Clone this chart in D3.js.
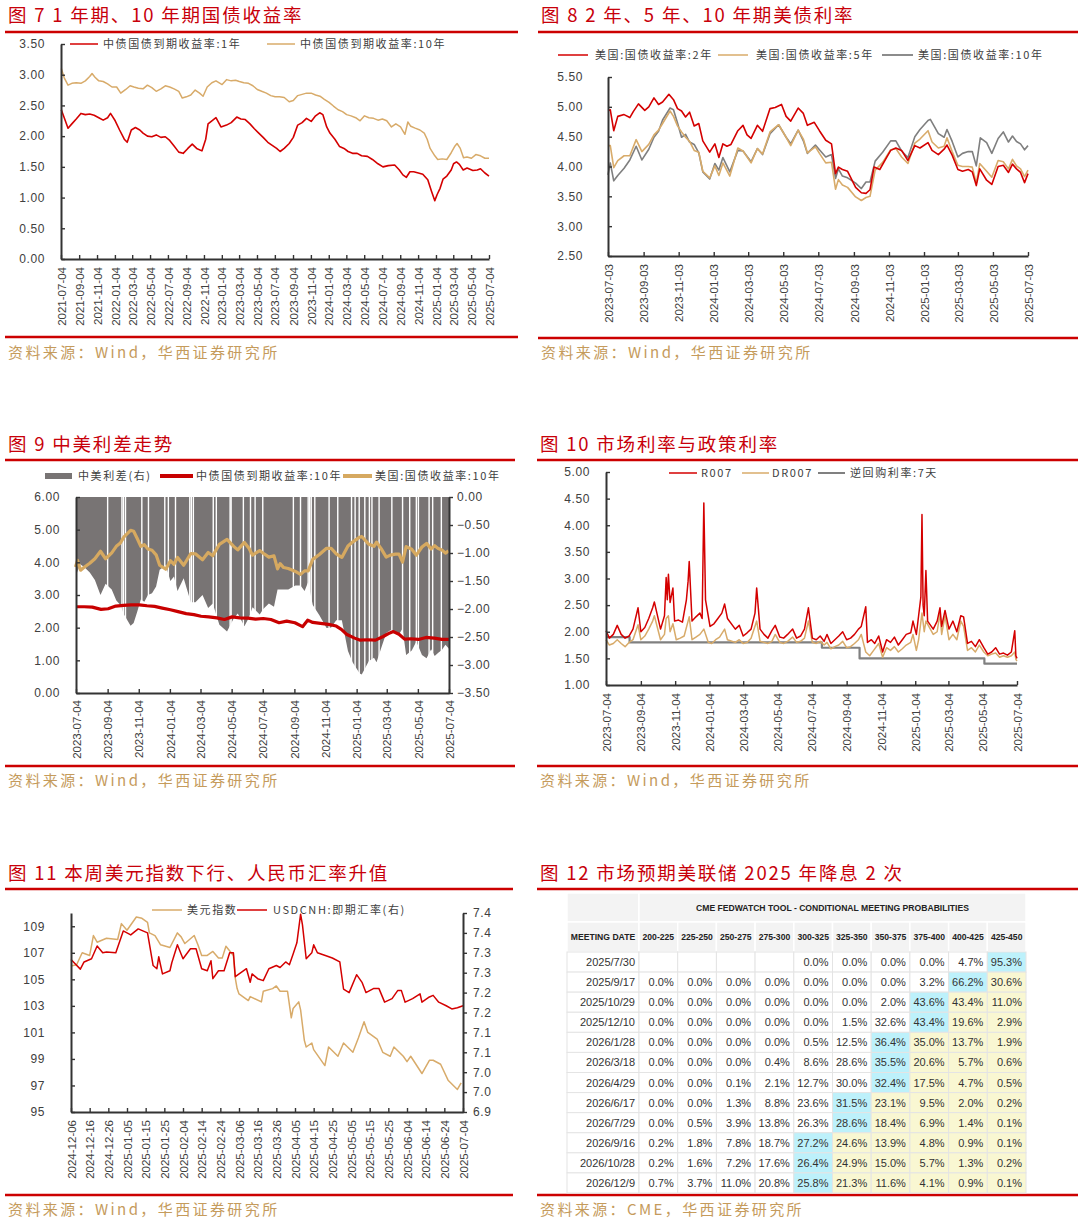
<!DOCTYPE html>
<html><head><meta charset="utf-8">
<script src="https://cdn.jsdelivr.net/npm/d3@7"></script>
<style>body{margin:0;background:#fff}svg{display:block}</style>
</head><body>
<svg id="c" width="1080" height="1225"></svg>
<script>
// ---------------- DATA ----------------
// Fig 7: China government bond yields (%)
const cn1y = [["2021-07-05",2.43],["2021-07-15",2.30],["2021-07-28",2.13],["2021-08-10",2.20],["2021-08-25",2.28],["2021-09-10",2.37],["2021-09-25",2.35],["2021-10-10",2.36],["2021-10-25",2.34],["2021-11-10",2.30],["2021-11-25",2.26],["2021-12-10",2.30],["2021-12-20",2.37],["2022-01-05",2.25],["2022-01-20",2.10],["2022-02-05",1.95],["2022-02-15",1.90],["2022-03-01",2.10],["2022-03-15",2.14],["2022-03-30",2.10],["2022-04-10",2.05],["2022-04-25",2.00],["2022-05-10",1.99],["2022-05-25",2.02],["2022-06-10",1.98],["2022-06-25",1.99],["2022-07-10",1.93],["2022-07-25",1.84],["2022-08-10",1.74],["2022-08-25",1.72],["2022-09-10",1.80],["2022-09-25",1.87],["2022-10-10",1.80],["2022-10-28",1.76],["2022-11-10",1.95],["2022-11-18",2.20],["2022-12-01",2.25],["2022-12-15",2.30],["2023-01-01",2.15],["2023-01-20",2.18],["2023-02-05",2.22],["2023-02-24",2.31],["2023-03-10",2.28],["2023-03-25",2.27],["2023-04-10",2.20],["2023-04-25",2.12],["2023-05-10",2.05],["2023-05-25",1.98],["2023-06-10",1.90],["2023-06-25",1.85],["2023-07-10",1.80],["2023-07-22",1.75],["2023-08-05",1.80],["2023-08-22",1.88],["2023-09-05",1.98],["2023-09-20",2.18],["2023-10-05",2.22],["2023-10-20",2.29],["2023-11-05",2.24],["2023-11-20",2.33],["2023-12-04",2.38],["2023-12-15",2.35],["2023-12-28",2.15],["2024-01-08",2.05],["2024-01-25",1.95],["2024-02-10",1.83],["2024-02-25",1.80],["2024-03-10",1.75],["2024-03-25",1.72],["2024-04-10",1.72],["2024-04-25",1.68],["2024-05-15",1.67],["2024-06-01",1.62],["2024-06-20",1.55],["2024-07-07",1.50],["2024-07-25",1.52],["2024-08-16",1.53],["2024-09-01",1.45],["2024-09-13",1.37],["2024-09-25",1.33],["2024-10-07",1.42],["2024-10-20",1.42],["2024-11-05",1.40],["2024-11-20",1.38],["2024-12-07",1.29],["2024-12-20",1.10],["2024-12-31",0.95],["2025-01-08",1.05],["2025-01-18",1.15],["2025-01-28",1.30],["2025-02-10",1.35],["2025-02-25",1.45],["2025-03-05",1.55],["2025-03-15",1.58],["2025-03-25",1.54],["2025-04-07",1.45],["2025-04-20",1.48],["2025-05-10",1.44],["2025-05-25",1.45],["2025-06-05",1.47],["2025-06-20",1.40],["2025-07-04",1.35]];
const cn10y = [["2021-07-05",3.10],["2021-07-15",2.95],["2021-07-28",2.83],["2021-08-10",2.86],["2021-08-25",2.87],["2021-09-10",2.86],["2021-09-25",2.90],["2021-10-10",2.97],["2021-10-18",3.02],["2021-10-28",2.96],["2021-11-10",2.90],["2021-11-25",2.89],["2021-12-10",2.85],["2021-12-25",2.80],["2022-01-10",2.80],["2022-01-24",2.70],["2022-02-10",2.76],["2022-02-25",2.82],["2022-03-10",2.80],["2022-03-25",2.78],["2022-04-10",2.77],["2022-04-25",2.83],["2022-05-10",2.79],["2022-05-25",2.73],["2022-06-10",2.77],["2022-06-25",2.82],["2022-07-10",2.80],["2022-07-25",2.77],["2022-08-10",2.73],["2022-08-22",2.62],["2022-09-05",2.64],["2022-09-20",2.67],["2022-10-05",2.75],["2022-10-20",2.70],["2022-11-01",2.65],["2022-11-15",2.80],["2022-12-01",2.87],["2022-12-15",2.90],["2023-01-05",2.84],["2023-01-20",2.92],["2023-02-05",2.90],["2023-02-20",2.91],["2023-03-05",2.89],["2023-03-20",2.87],["2023-04-05",2.86],["2023-04-20",2.82],["2023-05-05",2.76],["2023-05-20",2.73],["2023-06-05",2.70],["2023-06-20",2.66],["2023-07-05",2.64],["2023-07-20",2.64],["2023-08-05",2.63],["2023-08-22",2.56],["2023-09-05",2.58],["2023-09-20",2.66],["2023-10-05",2.68],["2023-10-20",2.70],["2023-11-05",2.70],["2023-11-20",2.67],["2023-12-05",2.65],["2023-12-20",2.60],["2024-01-05",2.55],["2024-01-20",2.49],["2024-02-05",2.43],["2024-02-20",2.40],["2024-03-05",2.35],["2024-03-20",2.33],["2024-04-05",2.30],["2024-04-20",2.25],["2024-05-05",2.33],["2024-05-20",2.30],["2024-06-05",2.29],["2024-06-20",2.26],["2024-07-05",2.28],["2024-07-20",2.25],["2024-08-05",2.15],["2024-08-20",2.20],["2024-09-05",2.15],["2024-09-20",2.03],["2024-09-30",2.23],["2024-10-10",2.16],["2024-10-25",2.13],["2024-11-10",2.10],["2024-11-25",2.05],["2024-12-05",1.95],["2024-12-15",1.80],["2024-12-31",1.68],["2025-01-10",1.62],["2025-01-25",1.63],["2025-02-10",1.62],["2025-02-25",1.73],["2025-03-10",1.84],["2025-03-17",1.88],["2025-03-28",1.80],["2025-04-08",1.65],["2025-04-20",1.66],["2025-05-05",1.64],["2025-05-20",1.70],["2025-06-05",1.68],["2025-06-20",1.64],["2025-07-04",1.64]];

// Fig 8: US Treasury yields (%)
const us2y = [["2023-07-03",4.94],["2023-07-07",4.95],["2023-07-13",4.60],["2023-07-20",4.84],["2023-07-31",4.87],["2023-08-10",4.82],["2023-08-16",4.92],["2023-08-25",5.05],["2023-09-05",4.94],["2023-09-12",5.00],["2023-09-21",5.15],["2023-09-29",5.04],["2023-10-06",5.08],["2023-10-17",5.21],["2023-10-25",5.12],["2023-11-01",4.97],["2023-11-08",4.93],["2023-11-15",4.83],["2023-11-22",4.91],["2023-11-30",4.68],["2023-12-08",4.72],["2023-12-15",4.43],["2023-12-27",4.24],["2024-01-05",4.38],["2024-01-12",4.15],["2024-01-19",4.38],["2024-01-26",4.34],["2024-02-02",4.37],["2024-02-14",4.60],["2024-02-23",4.69],["2024-03-01",4.53],["2024-03-08",4.47],["2024-03-19",4.69],["2024-03-28",4.59],["2024-04-10",4.97],["2024-04-19",4.99],["2024-04-30",5.04],["2024-05-08",4.84],["2024-05-16",4.76],["2024-05-29",4.98],["2024-06-07",4.89],["2024-06-14",4.69],["2024-06-26",4.74],["2024-07-05",4.60],["2024-07-16",4.44],["2024-07-26",4.38],["2024-08-02",3.88],["2024-08-07",3.99],["2024-08-14",3.95],["2024-08-23",3.92],["2024-09-06",3.65],["2024-09-16",3.56],["2024-09-24",3.55],["2024-10-01",3.61],["2024-10-08",3.99],["2024-10-18",3.95],["2024-10-28",4.12],["2024-11-06",4.27],["2024-11-15",4.31],["2024-11-25",4.27],["2024-12-06",4.10],["2024-12-18",4.35],["2024-12-27",4.31],["2025-01-10",4.40],["2025-01-17",4.27],["2025-01-28",4.20],["2025-02-07",4.29],["2025-02-12",4.36],["2025-02-21",4.19],["2025-03-03",3.95],["2025-03-11",3.92],["2025-03-21",3.95],["2025-03-28",3.91],["2025-04-04",3.68],["2025-04-10",3.96],["2025-04-22",3.77],["2025-05-01",3.70],["2025-05-12",4.00],["2025-05-21",4.02],["2025-05-30",3.90],["2025-06-06",4.04],["2025-06-13",3.96],["2025-06-20",3.90],["2025-06-27",3.73],["2025-07-03",3.88]];
const us5y = [["2023-07-03",4.35],["2023-07-07",4.35],["2023-07-13",3.98],["2023-07-20",4.10],["2023-07-31",4.18],["2023-08-10",4.18],["2023-08-21",4.45],["2023-08-31",4.25],["2023-09-12",4.37],["2023-09-21",4.53],["2023-09-29",4.61],["2023-10-06",4.72],["2023-10-19",4.93],["2023-10-25",4.84],["2023-11-01",4.68],["2023-11-08",4.58],["2023-11-15",4.49],["2023-11-22",4.42],["2023-11-30",4.27],["2023-12-08",4.24],["2023-12-15",3.92],["2023-12-27",3.81],["2024-01-05",4.01],["2024-01-12",3.85],["2024-01-19",4.06],["2024-01-31",3.84],["2024-02-14",4.31],["2024-02-23",4.26],["2024-03-08",4.06],["2024-03-19",4.30],["2024-03-28",4.21],["2024-04-10",4.58],["2024-04-25",4.70],["2024-05-08",4.49],["2024-05-16",4.35],["2024-05-29",4.61],["2024-06-07",4.46],["2024-06-14",4.23],["2024-06-28",4.33],["2024-07-05",4.22],["2024-07-16",4.06],["2024-07-26",4.07],["2024-08-02",3.62],["2024-08-07",3.78],["2024-08-14",3.69],["2024-08-23",3.65],["2024-09-06",3.49],["2024-09-16",3.43],["2024-09-24",3.48],["2024-10-01",3.50],["2024-10-10",3.94],["2024-10-23",4.07],["2024-11-06",4.28],["2024-11-15",4.30],["2024-11-25",4.16],["2024-12-06",4.05],["2024-12-18",4.39],["2024-12-27",4.46],["2025-01-10",4.60],["2025-01-17",4.41],["2025-01-28",4.31],["2025-02-07",4.34],["2025-02-12",4.48],["2025-02-21",4.25],["2025-03-03",4.02],["2025-03-11",4.00],["2025-03-21",4.00],["2025-03-28",3.99],["2025-04-04",3.72],["2025-04-10",4.05],["2025-04-22",3.92],["2025-05-01",3.82],["2025-05-12",4.10],["2025-05-21",4.08],["2025-05-30",3.96],["2025-06-06",4.12],["2025-06-13",4.01],["2025-06-20",3.96],["2025-06-27",3.83],["2025-07-03",3.94]];
const us10y = [["2023-07-03",3.86],["2023-07-07",4.06],["2023-07-13",3.76],["2023-07-20",3.85],["2023-07-31",3.97],["2023-08-10",4.11],["2023-08-21",4.34],["2023-08-31",4.11],["2023-09-12",4.29],["2023-09-21",4.49],["2023-09-29",4.59],["2023-10-06",4.78],["2023-10-19",4.98],["2023-10-25",4.95],["2023-11-01",4.73],["2023-11-08",4.49],["2023-11-15",4.54],["2023-11-22",4.41],["2023-11-30",4.37],["2023-12-08",4.23],["2023-12-15",3.91],["2023-12-27",3.79],["2024-01-05",4.05],["2024-01-12",3.94],["2024-01-19",4.15],["2024-01-31",3.91],["2024-02-14",4.27],["2024-02-23",4.26],["2024-03-08",4.08],["2024-03-19",4.30],["2024-03-28",4.20],["2024-04-10",4.55],["2024-04-25",4.70],["2024-05-08",4.49],["2024-05-16",4.38],["2024-05-29",4.61],["2024-06-07",4.43],["2024-06-14",4.22],["2024-06-28",4.36],["2024-07-05",4.28],["2024-07-16",4.16],["2024-07-26",4.20],["2024-08-02",3.80],["2024-08-07",3.96],["2024-08-14",3.84],["2024-08-23",3.81],["2024-09-06",3.72],["2024-09-16",3.63],["2024-09-24",3.74],["2024-10-01",3.74],["2024-10-10",4.09],["2024-10-23",4.24],["2024-11-06",4.43],["2024-11-15",4.43],["2024-11-25",4.26],["2024-12-06",4.15],["2024-12-18",4.50],["2024-12-27",4.62],["2025-01-10",4.77],["2025-01-14",4.79],["2025-01-28",4.55],["2025-02-07",4.49],["2025-02-12",4.62],["2025-02-21",4.42],["2025-03-03",4.16],["2025-03-11",4.22],["2025-03-21",4.25],["2025-03-28",4.25],["2025-04-04",4.01],["2025-04-11",4.48],["2025-04-22",4.40],["2025-05-01",4.22],["2025-05-12",4.47],["2025-05-21",4.58],["2025-05-30",4.41],["2025-06-06",4.51],["2025-06-13",4.42],["2025-06-20",4.38],["2025-06-27",4.28],["2025-07-03",4.35]];

// Fig 9: China-US 10Y spread (%, right axis)
const spread = [["2023-07-04",-1.40],["2023-07-12",-1.20],["2023-07-20",-1.25],["2023-07-31",-1.35],["2023-08-10",-1.48],["2023-08-21",-1.75],["2023-08-31",-1.55],["2023-09-12",-1.65],["2023-09-21",-1.85],["2023-09-29",-1.93],["2023-10-06",-2.10],["2023-10-19",-2.30],["2023-10-25",-2.25],["2023-11-01",-2.05],["2023-11-08",-1.83],["2023-11-15",-1.87],["2023-11-22",-1.75],["2023-11-30",-1.72],["2023-12-08",-1.60],["2023-12-15",-1.30],["2023-12-27",-1.22],["2024-01-05",-1.50],["2024-01-12",-1.42],["2024-01-19",-1.68],["2024-01-31",-1.45],["2024-02-14",-1.88],["2024-02-23",-1.88],["2024-03-08",-1.75],["2024-03-19",-1.98],["2024-03-28",-1.90],["2024-04-10",-2.28],["2024-04-25",-2.40],["2024-05-08",-2.17],["2024-05-16",-2.08],["2024-05-29",-2.31],["2024-06-07",-2.15],["2024-06-14",-1.97],["2024-06-28",-2.10],["2024-07-05",-2.00],["2024-07-16",-1.90],["2024-07-26",-1.96],["2024-08-02",-1.65],["2024-08-14",-1.65],["2024-08-23",-1.65],["2024-09-06",-1.58],["2024-09-16",-1.58],["2024-09-24",-1.68],["2024-10-01",-1.52],["2024-10-10",-1.93],["2024-10-23",-2.11],["2024-11-06",-2.34],["2024-11-15",-2.33],["2024-11-25",-2.20],["2024-12-06",-2.20],["2024-12-18",-2.75],["2024-12-27",-2.95],["2025-01-10",-3.15],["2025-01-14",-3.17],["2025-01-28",-2.93],["2025-02-07",-2.87],["2025-02-12",-2.95],["2025-02-21",-2.70],["2025-03-03",-2.43],["2025-03-11",-2.38],["2025-03-21",-2.42],["2025-03-28",-2.45],["2025-04-04",-2.35],["2025-04-11",-2.82],["2025-04-22",-2.74],["2025-05-01",-2.58],["2025-05-12",-2.82],["2025-05-21",-2.88],["2025-05-30",-2.72],["2025-06-06",-2.84],["2025-06-13",-2.78],["2025-06-20",-2.73],["2025-06-27",-2.64],["2025-07-04",-2.71]];
// days with no spread value (market holidays) shown as gaps in the bars
const spreadGaps = ["2023-09-04","2023-10-02","2023-10-05","2023-10-09","2023-11-10","2023-11-23","2023-12-25","2024-01-01","2024-01-15","2024-02-12","2024-02-15","2024-02-19","2024-03-29","2024-04-04","2024-05-01","2024-05-03","2024-05-27","2024-06-10","2024-06-19","2024-07-04","2024-09-02","2024-09-16","2024-10-01","2024-10-04","2024-10-07","2024-10-14","2024-11-11","2024-11-28","2024-12-25","2025-01-01","2025-01-09","2025-01-20","2025-01-29","2025-02-03","2025-02-17","2025-03-14","2025-04-04","2025-04-18","2025-05-01","2025-05-05","2025-05-26","2025-06-02","2025-06-19"];

// Fig 10: money market & policy rates (%)
const r007 = [["2023-07-04",2.02],["2023-07-10",1.88],["2023-07-17",1.95],["2023-07-24",2.12],["2023-07-31",1.95],["2023-08-07",1.88],["2023-08-14",1.92],["2023-08-21",2.05],["2023-08-30",2.45],["2023-09-04",2.00],["2023-09-11",2.08],["2023-09-18",2.25],["2023-09-25",2.45],["2023-09-28",2.56],["2023-10-09",2.05],["2023-10-16",2.30],["2023-10-19",3.02],["2023-10-21",2.60],["2023-10-23",3.08],["2023-10-26",2.55],["2023-10-31",2.82],["2023-11-03",2.20],["2023-11-10",2.22],["2023-11-17",2.18],["2023-11-24",2.60],["2023-11-27",2.95],["2023-11-29",3.32],["2023-12-04",2.20],["2023-12-11",2.28],["2023-12-18",2.35],["2023-12-22",2.25],["2023-12-25",4.42],["2023-12-28",2.60],["2024-01-05",2.10],["2024-01-12",2.15],["2024-01-19",2.25],["2024-01-26",2.35],["2024-01-31",2.52],["2024-02-05",2.25],["2024-02-19",2.05],["2024-02-26",2.12],["2024-03-04",1.92],["2024-03-11",1.98],["2024-03-18",2.05],["2024-03-25",2.35],["2024-03-28",2.82],["2024-04-03",2.05],["2024-04-10",1.95],["2024-04-17",1.88],["2024-04-24",2.02],["2024-04-30",2.12],["2024-05-08",1.90],["2024-05-15",1.88],["2024-05-22",1.95],["2024-05-31",2.05],["2024-06-07",1.88],["2024-06-14",1.92],["2024-06-21",2.05],["2024-06-28",2.45],["2024-07-05",1.88],["2024-07-12",1.85],["2024-07-19",1.92],["2024-07-26",1.82],["2024-07-31",1.95],["2024-08-07",1.78],["2024-08-14",1.85],["2024-08-21",1.92],["2024-08-28",2.00],["2024-09-04",1.85],["2024-09-11",1.88],["2024-09-18",1.95],["2024-09-25",2.05],["2024-09-30",2.10],["2024-10-08",2.47],["2024-10-11",1.80],["2024-10-18",1.85],["2024-10-24",1.78],["2024-10-31",1.92],["2024-11-07",1.62],["2024-11-14",1.85],["2024-11-21",1.80],["2024-11-28",1.90],["2024-12-05",1.75],["2024-12-12",1.85],["2024-12-19",1.95],["2024-12-27",1.98],["2024-12-31",2.20],["2025-01-06",1.95],["2025-01-10",2.30],["2025-01-14",2.65],["2025-01-16",4.20],["2025-01-18",2.50],["2025-01-20",2.30],["2025-01-23",3.15],["2025-01-26",2.20],["2025-02-05",2.05],["2025-02-12",2.20],["2025-02-17",2.45],["2025-02-20",2.10],["2025-02-26",2.40],["2025-03-05",2.05],["2025-03-12",2.20],["2025-03-19",2.00],["2025-03-26",2.30],["2025-03-31",2.28],["2025-04-07",1.78],["2025-04-14",1.82],["2025-04-21",1.72],["2025-04-28",1.85],["2025-05-06",1.70],["2025-05-13",1.58],["2025-05-20",1.62],["2025-05-27",1.70],["2025-06-03",1.58],["2025-06-10",1.60],["2025-06-17",1.56],["2025-06-24",1.62],["2025-06-30",2.02],["2025-07-02",1.55],["2025-07-04",1.50]];
const dr007 = [["2023-07-04",1.85],["2023-07-10",1.75],["2023-07-17",1.78],["2023-07-24",1.85],["2023-07-31",1.78],["2023-08-07",1.72],["2023-08-14",1.80],["2023-08-21",1.85],["2023-08-30",2.13],["2023-09-04",1.85],["2023-09-11",1.92],["2023-09-18",2.05],["2023-09-25",2.20],["2023-09-28",2.30],["2023-10-09",1.85],["2023-10-16",1.95],["2023-10-19",2.25],["2023-10-23",2.30],["2023-10-26",2.00],["2023-10-31",2.15],["2023-11-06",1.85],["2023-11-13",1.88],["2023-11-20",1.92],["2023-11-29",2.28],["2023-12-04",1.85],["2023-12-11",1.90],["2023-12-18",1.95],["2023-12-25",2.05],["2024-01-02",1.80],["2024-01-08",1.78],["2024-01-15",1.85],["2024-01-22",1.90],["2024-01-31",2.05],["2024-02-05",1.85],["2024-02-19",1.80],["2024-02-26",1.85],["2024-03-04",1.78],["2024-03-11",1.80],["2024-03-18",1.88],["2024-03-28",2.20],["2024-04-03",1.82],["2024-04-10",1.80],["2024-04-17",1.78],["2024-04-24",1.82],["2024-04-30",1.95],["2024-05-08",1.80],["2024-05-15",1.78],["2024-05-22",1.82],["2024-05-31",1.90],["2024-06-07",1.80],["2024-06-14",1.82],["2024-06-21",1.88],["2024-06-28",2.20],["2024-07-05",1.80],["2024-07-12",1.78],["2024-07-19",1.82],["2024-07-26",1.75],["2024-07-31",1.80],["2024-08-07",1.68],["2024-08-14",1.72],["2024-08-21",1.75],["2024-08-28",1.82],["2024-09-04",1.70],["2024-09-11",1.72],["2024-09-18",1.78],["2024-09-25",1.85],["2024-09-30",1.95],["2024-10-08",1.62],["2024-10-15",1.55],["2024-10-22",1.65],["2024-10-31",1.78],["2024-11-07",1.52],["2024-11-14",1.70],["2024-11-21",1.65],["2024-11-28",1.72],["2024-12-05",1.62],["2024-12-12",1.68],["2024-12-19",1.75],["2024-12-27",1.80],["2024-12-31",1.95],["2025-01-06",1.65],["2025-01-10",1.85],["2025-01-16",2.35],["2025-01-20",2.00],["2025-01-23",2.20],["2025-02-05",1.95],["2025-02-12",2.00],["2025-02-17",2.35],["2025-02-20",1.95],["2025-02-26",2.30],["2025-03-05",1.85],["2025-03-12",1.95],["2025-03-19",1.85],["2025-03-26",2.20],["2025-03-31",2.10],["2025-04-07",1.65],["2025-04-14",1.70],["2025-04-21",1.62],["2025-04-28",1.75],["2025-05-06",1.62],["2025-05-13",1.55],["2025-05-20",1.58],["2025-05-27",1.60],["2025-06-03",1.52],["2025-06-10",1.55],["2025-06-17",1.52],["2025-06-24",1.55],["2025-06-30",1.62],["2025-07-02",1.48],["2025-07-04",1.45]];
const repo7d = [["2023-07-04",1.90],["2023-08-15",1.80],["2024-07-22",1.70],["2024-09-27",1.50],["2025-05-07",1.40],["2025-07-04",1.40]];

// Fig 11: dollar index (left) & USDCNH (right)
const dxy = [["2024-12-06",106.0],["2024-12-09",106.1],["2024-12-12",107.0],["2024-12-16",106.8],["2024-12-18",108.3],["2024-12-20",107.8],["2024-12-25",108.1],["2024-12-31",108.0],["2025-01-02",109.2],["2025-01-05",108.7],["2025-01-10",109.7],["2025-01-13",109.6],["2025-01-16",109.3],["2025-01-17",108.5],["2025-01-20",108.3],["2025-01-23",107.6],["2025-01-28",107.4],["2025-02-01",108.5],["2025-02-03",108.2],["2025-02-05",107.7],["2025-02-10",108.3],["2025-02-12",107.6],["2025-02-14",106.8],["2025-02-17",106.8],["2025-02-20",107.1],["2025-02-23",106.6],["2025-02-25",106.6],["2025-02-27",107.5],["2025-03-03",106.8],["2025-03-04",105.1],["2025-03-05",104.3],["2025-03-06",103.9],["2025-03-11",103.4],["2025-03-12",103.7],["2025-03-18",103.3],["2025-03-19",104.1],["2025-03-24",104.3],["2025-03-26",104.5],["2025-03-28",104.1],["2025-04-01",104.1],["2025-04-03",102.1],["2025-04-04",102.8],["2025-04-07",103.3],["2025-04-08",102.7],["2025-04-10",100.4],["2025-04-11",99.9],["2025-04-14",100.2],["2025-04-15",99.7],["2025-04-21",98.5],["2025-04-23",99.9],["2025-04-28",99.2],["2025-05-01",100.2],["2025-05-06",99.5],["2025-05-09",100.6],["2025-05-12",101.8],["2025-05-14",101.0],["2025-05-19",100.5],["2025-05-22",99.5],["2025-05-26",99.2],["2025-05-28",99.9],["2025-06-02",99.2],["2025-06-04",98.8],["2025-06-06",99.2],["2025-06-12",97.9],["2025-06-16",98.9],["2025-06-18",98.9],["2025-06-22",98.6],["2025-06-26",97.4],["2025-07-01",96.7],["2025-07-03",97.2]];
const cnh = [["2024-12-06",7.283],["2024-12-11",7.259],["2024-12-13",7.277],["2024-12-17",7.285],["2024-12-20",7.317],["2024-12-23",7.300],["2024-12-25",7.302],["2024-12-30",7.300],["2025-01-03",7.355],["2025-01-07",7.345],["2025-01-11",7.360],["2025-01-16",7.350],["2025-01-19",7.268],["2025-01-21",7.260],["2025-01-22",7.290],["2025-01-24",7.247],["2025-01-28",7.255],["2025-01-29",7.275],["2025-02-01",7.320],["2025-02-04",7.285],["2025-02-08",7.310],["2025-02-11",7.310],["2025-02-14",7.260],["2025-02-17",7.255],["2025-02-19",7.280],["2025-02-20",7.235],["2025-02-23",7.255],["2025-02-26",7.255],["2025-03-01",7.300],["2025-03-03",7.300],["2025-03-04",7.240],["2025-03-10",7.260],["2025-03-12",7.226],["2025-03-13",7.247],["2025-03-16",7.235],["2025-03-19",7.230],["2025-03-22",7.260],["2025-03-26",7.268],["2025-03-28",7.263],["2025-03-31",7.277],["2025-04-02",7.270],["2025-04-04",7.297],["2025-04-06",7.325],["2025-04-08",7.397],["2025-04-09",7.370],["2025-04-11",7.285],["2025-04-14",7.300],["2025-04-15",7.320],["2025-04-17",7.300],["2025-04-22",7.292],["2025-04-25",7.287],["2025-04-29",7.277],["2025-05-01",7.209],["2025-05-04",7.200],["2025-05-08",7.245],["2025-05-11",7.225],["2025-05-13",7.200],["2025-05-17",7.210],["2025-05-20",7.210],["2025-05-23",7.176],["2025-05-27",7.185],["2025-05-30",7.205],["2025-06-01",7.205],["2025-06-03",7.176],["2025-06-07",7.185],["2025-06-11",7.197],["2025-06-12",7.176],["2025-06-16",7.189],["2025-06-18",7.193],["2025-06-21",7.176],["2025-06-25",7.167],["2025-06-28",7.159],["2025-07-01",7.162],["2025-07-04",7.167]];

// Fig 12: CME FedWatch conditional meeting probabilities (%)
const rateBands = ["200-225","225-250","250-275","275-300","300-325","325-350","350-375","375-400","400-425","425-450"];
const meetings = ["2025/7/30","2025/9/17","2025/10/29","2025/12/10","2026/1/28","2026/3/18","2026/4/29","2026/6/17","2026/7/29","2026/9/16","2026/10/28","2026/12/9"];
const probs = [
  [null,null,null,null,0.0,0.0,0.0,0.0,4.7,95.3],
  [0.0,0.0,0.0,0.0,0.0,0.0,0.0,3.2,66.2,30.6],
  [0.0,0.0,0.0,0.0,0.0,0.0,2.0,43.6,43.4,11.0],
  [0.0,0.0,0.0,0.0,0.0,1.5,32.6,43.4,19.6,2.9],
  [0.0,0.0,0.0,0.0,0.5,12.5,36.4,35.0,13.7,1.9],
  [0.0,0.0,0.0,0.4,8.6,28.6,35.5,20.6,5.7,0.6],
  [0.0,0.0,0.1,2.1,12.7,30.0,32.4,17.5,4.7,0.5],
  [0.0,0.0,1.3,8.8,23.6,31.5,23.1,9.5,2.0,0.2],
  [0.0,0.5,3.9,13.8,26.3,28.6,18.4,6.9,1.4,0.1],
  [0.2,1.8,7.8,18.7,27.2,24.6,13.9,4.8,0.9,0.1],
  [0.2,1.6,7.2,17.6,26.4,24.9,15.0,5.7,1.3,0.2],
  [0.7,3.7,11.0,20.8,25.8,21.3,11.6,4.1,0.9,0.1]
];

// Tick labels
const ticks7 = ["2021-07-04","2021-09-04","2021-11-04","2022-01-04","2022-03-04","2022-05-04","2022-07-04","2022-09-04","2022-11-04","2023-01-04","2023-03-04","2023-05-04","2023-07-04","2023-09-04","2023-11-04","2024-01-04","2024-03-04","2024-05-04","2024-07-04","2024-09-04","2024-11-04","2025-01-04","2025-03-04","2025-05-04","2025-07-04"];
const ticks8 = ["2023-07-03","2023-09-03","2023-11-03","2024-01-03","2024-03-03","2024-05-03","2024-07-03","2024-09-03","2024-11-03","2025-01-03","2025-03-03","2025-05-03","2025-07-03"];
const ticks9 = ["2023-07-04","2023-09-04","2023-11-04","2024-01-04","2024-03-04","2024-05-04","2024-07-04","2024-09-04","2024-11-04","2025-01-04","2025-03-04","2025-05-04","2025-07-04"];
const ticks11 = ["2024-12-06","2024-12-16","2024-12-26","2025-01-05","2025-01-15","2025-01-25","2025-02-04","2025-02-14","2025-02-24","2025-03-06","2025-03-16","2025-03-26","2025-04-05","2025-04-15","2025-04-25","2025-05-05","2025-05-15","2025-05-25","2025-06-04","2025-06-14","2025-06-24","2025-07-04"];
const yTicks7 = [0,0.5,1,1.5,2,2.5,3,3.5];
const yTicks8 = [2.5,3,3.5,4,4.5,5,5.5];
const yTicks9L = [0,1,2,3,4,5,6];
const yTicks9R = [-3.5,-3,-2.5,-2,-1.5,-1,-0.5,0];
const yTicks10 = [1,1.5,2,2.5,3,3.5,4,4.5,5];
const yTicks11L = [95,97,99,101,103,105,107,109];
const yTicks11R = [6.9,6.95,7.0,7.05,7.1,7.15,7.2,7.25,7.3,7.35,7.4];
const yLabels11R = ["6.9","7.0","7.0","7.1","7.1","7.2","7.2","7.3","7.3","7.4","7.4"];

// ---------------- DRAWING ----------------
const svg = d3.select("#c");
const parse = d3.timeParse("%Y-%m-%d");
const CJK = "'Noto Sans CJK SC','Noto Sans',sans-serif";
const NUM = "'Liberation Sans',Arial,sans-serif";
const RED = "#d40000", TAN = "#d8ab6a", GRAY = "#7f7f7f", TRED = "#c8000a", SRC = "#c59b5c";
const f2 = d3.format(".2f");
const fd = d3.timeFormat("%Y-%m-%d");
const pts = arr => arr.map(d => [parse(d[0]), d[1]]);

function frame(x0, x1, title, titleBase, ruleY, botRuleY, src, srcBase) {
  svg.append("text").attr("x", x0 + 3).attr("y", titleBase).text(title)
    .style("font-family", CJK).style("font-size", "18.5px").style("letter-spacing", "1.8px").attr("fill", TRED);
  svg.append("line").attr("x1", x0).attr("x2", x1).attr("y1", ruleY).attr("y2", ruleY).attr("stroke", "#cc0000").attr("stroke-width", 2.5);
  svg.append("line").attr("x1", x0).attr("x2", x1).attr("y1", botRuleY).attr("y2", botRuleY).attr("stroke", "#cc0000").attr("stroke-width", 2.5);
  svg.append("text").attr("x", x0 + 3).attr("y", srcBase).text(src)
    .style("font-family", CJK).style("font-size", "15px").style("letter-spacing", "2.4px").attr("fill", SRC);
}

function xAxisRot(x, yPos, labels, gap) {
  const ax = d3.axisBottom(x).tickValues(labels.map(parse)).tickFormat(fd).tickSize(-4).tickSizeOuter(0);
  const a = svg.append("g").attr("transform", `translate(0,${yPos})`).call(ax);
  a.select(".domain").attr("stroke", "#333").attr("stroke-width", 2);
  a.selectAll(".tick line").attr("stroke", "#333").attr("stroke-width", 1.4);
  a.selectAll(".tick text").attr("transform", "rotate(-90)").attr("x", -gap).attr("y", 0).attr("dy", "0.36em")
    .style("text-anchor", "end").attr("fill", "#404040").style("font-family", NUM).style("font-size", "11.5px");
}

function yAxis(y, xPos, values, fmt, pad, right) {
  const ax = (right ? d3.axisRight(y) : d3.axisLeft(y)).tickValues(values).tickFormat(fmt)
    .tickSize(right ? 4 : -4).tickSizeOuter(0).tickPadding(pad);
  const a = svg.append("g").attr("transform", `translate(${xPos},0)`).call(ax);
  a.select(".domain").attr("stroke", "#333").attr("stroke-width", 2);
  a.selectAll(".tick line").attr("stroke", "#333").attr("stroke-width", 1.4);
  a.selectAll(".tick text").attr("fill", "#404040").style("font-family", NUM).style("font-size", "12px").style("letter-spacing", "0.6px");
}

function drawLine(data, x, y, color, w, curve) {
  svg.append("path").datum(pts(data)).attr("fill", "none").attr("stroke", color).attr("stroke-width", w)
    .attr("stroke-linejoin", "round")
    .attr("d", d3.line().x(d => x(d[0])).y(d => y(d[1])).curve(curve || d3.curveLinear));
}

function legendItem(x1, x2, y, color, w, tx, label, isRect) {
  if (isRect) svg.append("rect").attr("x", x1).attr("y", y - 3).attr("width", x2 - x1).attr("height", 6).attr("fill", color);
  else svg.append("line").attr("x1", x1).attr("x2", x2).attr("y1", y).attr("y2", y).attr("stroke", color).attr("stroke-width", w);
  svg.append("text").attr("x", tx).attr("y", y).attr("dy", "0.36em").text(label)
    .style("font-family", CJK).style("font-size", "11px").style("letter-spacing", "1.6px").attr("fill", "#404040");
}

// ===== Fig 7 =====
frame(5, 518, "图 7  1 年期、10 年期国债收益率", 22, 32, 337, "资料来源：Wind，华西证券研究所", 358);
{
  const x = d3.scaleTime().domain([parse("2021-07-04"), parse("2025-07-04")]).range([61, 489]);
  const y = d3.scaleLinear().domain([0, 3.5]).range([259, 44]);
  drawLine(cn10y, x, y, TAN, 1.5);
  drawLine(cn1y, x, y, RED, 1.6);
  xAxisRot(x, 259, ticks7, 8);
  yAxis(y, 61, yTicks7, f2, 16, false);
  legendItem(70, 98, 44, RED, 1.5, 103, "中债国债到期收益率:1年");
  legendItem(267, 295, 44, TAN, 1.5, 300, "中债国债到期收益率:10年");
}

// ===== Fig 8 =====
frame(538, 1078, "图 8  2 年、5 年、10 年期美债利率", 22, 32, 338, "资料来源：Wind，华西证券研究所", 358);
{
  const x = d3.scaleTime().domain([parse("2023-07-03"), parse("2025-07-03")]).range([608, 1028]);
  const y = d3.scaleLinear().domain([2.5, 5.5]).range([256, 77]);
  drawLine(us10y, x, y, GRAY, 1.6);
  drawLine(us5y, x, y, TAN, 1.6);
  drawLine(us2y, x, y, RED, 1.6);
  xAxisRot(x, 256, ticks8, 8);
  yAxis(y, 608, yTicks8, f2, 25, false);
  legendItem(558, 588, 55, RED, 1.5, 595, "美国:国债收益率:2年");
  legendItem(718, 748, 55, TAN, 1.5, 756, "美国:国债收益率:5年");
  legendItem(882, 913, 55, "#666", 1.5, 918, "美国:国债收益率:10年");
}

// ===== Fig 9 =====
frame(5, 515, "图 9  中美利差走势", 451, 460, 766, "资料来源：Wind，华西证券研究所", 786);
{
  const x = d3.scaleTime().domain([parse("2023-07-04"), parse("2025-07-04")]).range([76, 449]);
  const yL = d3.scaleLinear().domain([0, 6]).range([693, 497]);
  const yR = d3.scaleLinear().domain([-3.5, 0]).range([693, 497]);
  svg.append("path").datum(pts(spread)).attr("fill", "#787474")
    .attr("d", d3.area().x(d => x(d[0])).y0(yR(0)).y1(d => yR(d[1])));
  svg.selectAll(".gap9").data(spreadGaps.map(parse)).enter().append("rect")
    .attr("x", d => x(d) - 0.7).attr("width", 1.4).attr("y", yR(0)).attr("height", yR(-3.5) - yR(0)).attr("fill", "#fff");
  drawLine(cn10y.filter(d => d[0] >= "2023-07-04"), x, yL, "#c80000", 3.2);
  drawLine(us10y, x, yL, "#d6a960", 3.2);
  xAxisRot(x, 693, ticks9, 7);
  yAxis(yL, 76, yTicks9L, f2, 16, false);
  yAxis(yR, 449, yTicks9R, f2, 4, true);
  legendItem(45, 72, 476, "#787474", 0, 78, "中美利差(右)", true);
  legendItem(160, 193, 476, "#c80000", 4, 196, "中债国债到期收益率:10年");
  legendItem(343, 372, 476, "#d6a960", 4, 375, "美国:国债收益率:10年");
}

// ===== Fig 10 =====
frame(537, 1078, "图 10  市场利率与政策利率", 451, 460, 766, "资料来源：Wind，华西证券研究所", 786);
{
  const x = d3.scaleTime().domain([parse("2023-07-04"), parse("2025-07-04")]).range([606, 1017]);
  const y = d3.scaleLinear().domain([1, 5]).range([685, 472]);
  drawLine(repo7d, x, y, "#808080", 2.2, d3.curveStepAfter);
  drawLine(dr007, x, y, TAN, 1.5);
  drawLine(r007, x, y, RED, 1.5);
  xAxisRot(x, 685, ticks9, 8);
  yAxis(y, 606, yTicks10, f2, 16, false);
  legendItem(669, 697, 473, RED, 1.5, 701, "R007");
  legendItem(742, 769, 473, TAN, 1.5, 772, "DR007");
  legendItem(818, 845, 473, "#808080", 2, 850, "逆回购利率:7天");
}

// ===== Fig 11 =====
frame(5, 513, "图 11 本周美元指数下行、人民币汇率升值", 880, 889, 1195, "资料来源：Wind，华西证券研究所", 1215);
{
  const x = d3.scaleTime().domain([parse("2024-12-06"), parse("2025-07-04")]).range([71, 463]);
  const yL = d3.scaleLinear().domain([95, 110]).range([1112, 913]);
  const yR = d3.scaleLinear().domain([6.9, 7.4]).range([1112, 913]);
  drawLine(dxy, x, yL, TAN, 1.5);
  drawLine(cnh, x, yR, RED, 1.5);
  xAxisRot(x, 1112, ticks11, 8);
  yAxis(yL, 71, yTicks11L, d3.format("d"), 26, false);
  yAxis(yR, 463, yTicks11R, (d, i) => yLabels11R[i], 6, true);
  legendItem(152, 182, 910, TAN, 1.5, 187, "美元指数");
  legendItem(237, 267, 910, RED, 1.5, 273, "USDCNH:即期汇率(右)");
}

// ===== Fig 12 (table) =====
frame(537, 1078, "图 12 市场预期美联储 2025 年降息 2 次", 880, 889, 1195, "资料来源：CME，华西证券研究所", 1215);
{
  const col = d3.scaleBand().domain(rateBands).range([639, 1026]);
  const row = d3.scaleBand().domain(meetings).range([952, 1193]);
  const g = svg.append("g");
  const HEAD = "#f3f3f3", LINE = "#e4e4e4";
  g.append("rect").attr("x", 567).attr("y", 893).attr("width", 72).attr("height", 29).attr("fill", HEAD).attr("stroke", "#fff").attr("stroke-width", 1.5);
  g.append("rect").attr("x", 639).attr("y", 893).attr("width", 387).attr("height", 29).attr("fill", HEAD).attr("stroke", "#fff").attr("stroke-width", 1.5);
  g.append("text").attr("x", 832.5).attr("y", 908).attr("dy", "0.35em").attr("text-anchor", "middle")
    .text("CME FEDWATCH TOOL - CONDITIONAL MEETING PROBABILITIES")
    .style("font-family", NUM).style("font-weight", "bold").style("font-size", "8.6px").attr("fill", "#222");
  g.append("rect").attr("x", 567).attr("y", 922).attr("width", 72).attr("height", 30).attr("fill", HEAD).attr("stroke", "#fff").attr("stroke-width", 1.5);
  g.append("text").attr("x", 603).attr("y", 937).attr("dy", "0.35em").attr("text-anchor", "middle").text("MEETING DATE")
    .style("font-family", NUM).style("font-weight", "bold").style("font-size", "8.6px").attr("fill", "#222");
  rateBands.forEach(r => {
    g.append("rect").attr("x", col(r)).attr("y", 922).attr("width", col.bandwidth()).attr("height", 30).attr("fill", HEAD).attr("stroke", "#fff").attr("stroke-width", 1.5);
    g.append("text").attr("x", col(r) + col.bandwidth() / 2).attr("y", 937).attr("dy", "0.35em").attr("text-anchor", "middle").text(r)
      .style("font-family", NUM).style("font-weight", "bold").style("font-size", "8.6px").attr("fill", "#222");
  });
  meetings.forEach((m, i) => {
    const vals = probs[i];
    const maxIdx = vals.indexOf(d3.max(vals));
    g.append("rect").attr("x", 567).attr("y", row(m)).attr("width", 72).attr("height", row.bandwidth()).attr("fill", "#fff").attr("stroke", LINE).attr("stroke-width", 1);
    g.append("text").attr("x", 635).attr("y", row(m) + row.bandwidth() / 2).attr("dy", "0.36em").attr("text-anchor", "end").text(m)
      .style("font-family", NUM).style("font-size", "11px").attr("fill", "#333");
    rateBands.forEach((r, j) => {
      const v = vals[j];
      const fill = j === maxIdx ? "#bdf1fb" : (j > maxIdx ? "#f9f7d2" : "#fff");
      g.append("rect").attr("x", col(r)).attr("y", row(m)).attr("width", col.bandwidth()).attr("height", row.bandwidth())
        .attr("fill", fill).attr("stroke", LINE).attr("stroke-width", 1);
      if (v !== null) g.append("text").attr("x", col(r) + col.bandwidth() - 4).attr("y", row(m) + row.bandwidth() / 2).attr("dy", "0.36em")
        .attr("text-anchor", "end").text(v.toFixed(1) + "%").style("font-family", NUM).style("font-size", "11px").attr("fill", "#333");
    });
  });
}
</script>
</body></html>
